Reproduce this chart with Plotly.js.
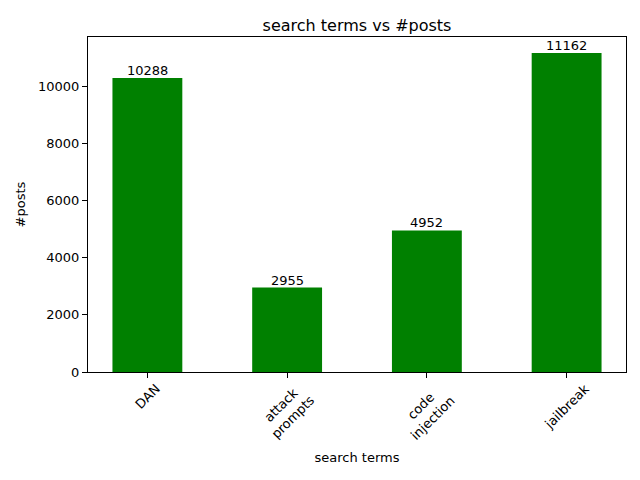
<!DOCTYPE html>
<html>
<head>
<meta charset="utf-8">
<script src="https://cdn.plot.ly/plotly-3.0.1.min.js"></script>
<style>body{margin:0;} #chart{width:640px;height:480px;}</style>
</head>
<body>
<div id="chart"></div>
<script>
// search terms and post counts
const terms = ['DAN', 'attack prompts', 'code injection', 'jailbreak'];
const tickLabels = ['DAN', 'attack<br>prompts', 'code<br>injection', 'jailbreak'];
const posts = [10288, 2955, 4952, 11162];
const yTicks = [0, 2000, 4000, 6000, 8000, 10000];

const font = { family: 'DejaVu Sans, sans-serif', size: 13, color: '#000' };

const barTrace = {
    type: 'bar',
    x: [0, 1, 2, 3],
    y: posts,
    width: 0.5,
    marker: { color: '#008000' },
    hoverinfo: 'skip'
};

// value labels sitting right on top of each bar
const valueNotes = posts.map((v, i) => ({
    x: i, xref: 'x', y: v, yref: 'y',
    text: String(v),
    showarrow: false,
    xanchor: 'center', yanchor: 'bottom',
    yshift: -1,
    borderpad: 0,
    font: font
}));

// rotated tick labels, centred on the tick like matplotlib does
const tickNotes = tickLabels.map((t, i) => ({
    x: i, xref: 'x',
    y: 0, yref: 'paper',
    yshift: -6,
    text: t,
    showarrow: false,
    textangle: -45,
    xanchor: 'center', yanchor: 'top',
    font: font
}));

const layout = {
    width: 640, height: 480,
    margin: { l: 88, r: 14, t: 37, b: 108 },
    paper_bgcolor: '#fff', plot_bgcolor: '#fff',
    font: font,
    showlegend: false,
    title: { text: 'search terms vs #posts', font: { family: font.family, size: 16, color: '#000' }, x: 0.5, xref: 'paper', y: 1, yref: 'paper', yanchor: 'bottom', pad: { b: 6 } },
    xaxis: {
        range: [-0.425, 3.425],
        tickvals: [0, 1, 2, 3],
        showticklabels: false,
        ticks: 'outside', ticklen: 5, tickcolor: '#000',
        showline: true, linecolor: '#000', mirror: true, linewidth: 1,
        showgrid: false, zeroline: false,
        title: { text: 'search terms', standoff: 75, font: font }
    },
    yaxis: {
        range: [0, 11720],
        tickvals: yTicks,
        ticktext: yTicks.map(String),
        ticks: 'outside', ticklen: 5, tickcolor: '#000',
        showline: true, linecolor: '#000', mirror: true, linewidth: 1,
        showgrid: false, zeroline: false,
        tickfont: font,
        title: { text: '#posts', standoff: 9, font: font }
    },
    annotations: valueNotes.concat(tickNotes)
};

Plotly.newPlot('chart', [barTrace], layout, { displayModeBar: false, staticPlot: true });
</script>
</body>
</html>
